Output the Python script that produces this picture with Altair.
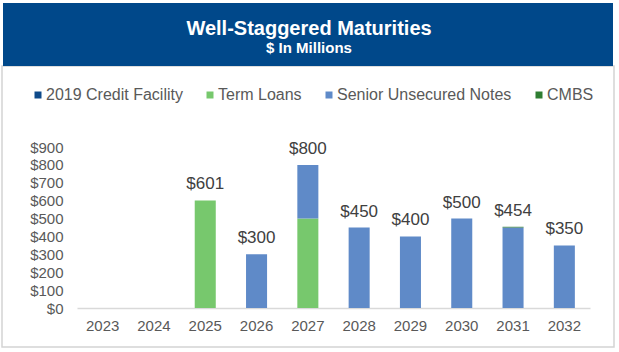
import altair as alt
import pandas as pd

# ---- data ----
years = ["2023", "2024", "2025", "2026", "2027", "2028", "2029", "2030", "2031", "2032"]
series = ["2019 Credit Facility", "Term Loans", "Senior Unsecured Notes", "CMBS"]
colors = ["#0F4A8A", "#77C86D", "#5F8AC8", "#2E7D32"]
credit_facility = [0, 0, 0, 0, 0, 0, 0, 0, 0, 0]
term_loans = [0, 0, 601, 0, 500, 0, 0, 0, 0, 0]
senior_notes = [0, 0, 0, 300, 300, 450, 400, 500, 450, 350]
cmbs = [0, 0, 0, 0, 0, 0, 0, 0, 4, 0]
y_ticks = [0, 100, 200, 300, 400, 500, 600, 700, 800, 900]
title_text = "Well-Staggered Maturities"
subtitle_text = "$ In Millions"

rows = []
for i, yr in enumerate(years):
    for k, (s, vals) in enumerate(zip(series, [credit_facility, term_loans, senior_notes, cmbs])):
        if vals[i] > 0:
            rows.append({"year": yr, "series": s, "value": vals[i], "order": k})
df = pd.DataFrame(rows)

totals = []
for i, yr in enumerate(years):
    t = credit_facility[i] + term_loans[i] + senior_notes[i] + cmbs[i]
    if t > 0:
        totals.append({"year": yr, "total": t})
tot_df = pd.DataFrame(totals)

FONT = "Liberation Sans"
one = alt.Data(values=[{}])

x_scale = alt.Scale(domain=years, paddingInner=0.59, paddingOuter=0.295)
x_axis = alt.Axis(title=None, labelAngle=0, ticks=False, domainColor="#d9d9d9",
                  domainWidth=1.5, labelPadding=10, labelFontSize=15,
                  labelColor="#595959", labelFont=FONT)
y_scale = alt.Scale(domain=[0, 900], nice=False)
y_axis = alt.Axis(title=None, values=y_ticks, format="$.0f", grid=False, domain=False,
                  ticks=False, labelPadding=14, labelFontSize=15, labelColor="#595959",
                  labelFont=FONT, labelOverlap=False)

banner = alt.Chart(one).mark_rect(color="#00488A").encode(
    x=alt.value(-74), x2=alt.value(536), y=alt.value(-144), y2=alt.value(-81)
)
border = alt.Chart(one).mark_rect(fillOpacity=0, stroke="#d4d4d4", strokeWidth=1.5).encode(
    x=alt.value(-75), x2=alt.value(537), y=alt.value(-81), y2=alt.value(200)
)
title = alt.Chart(one).mark_text(
    text=title_text, font=FONT, fontWeight="bold", fontSize=20,
    color="white", align="center", baseline="alphabetic"
).encode(x=alt.value(232), y=alt.value(-112))
subtitle = alt.Chart(one).mark_text(
    text=subtitle_text, font=FONT, fontWeight="bold", fontSize=15,
    color="white", align="center", baseline="alphabetic"
).encode(x=alt.value(232), y=alt.value(-94))

bars = alt.Chart(df).mark_bar().encode(
    x=alt.X("year:N", scale=x_scale, axis=x_axis),
    y=alt.Y("value:Q", stack="zero", scale=y_scale, axis=y_axis),
    color=alt.Color(
        "series:N",
        scale=alt.Scale(domain=series, range=colors),
        legend=alt.Legend(orient="none", legendX=-47, legendY=-60, direction="horizontal",
                          title=None, symbolType="square", symbolSize=49, labelFontSize=16,
                          labelFont=FONT, labelColor="#595959", columnPadding=19,
                          labelOffset=0, symbolStrokeWidth=0, labelLimit=0),
    ),
    order=alt.Order("order:Q"),
)

labels = alt.Chart(tot_df).mark_text(
    baseline="bottom", dy=-7, fontSize=17, font=FONT, color="#404040"
).encode(
    x=alt.X("year:N", scale=x_scale, axis=x_axis),
    y=alt.Y("total:Q", scale=y_scale, axis=y_axis),
    text=alt.Text("total:Q", format="$.0f"),
)

chart = alt.layer(border, banner, title, subtitle, bars, labels).properties(
    width=513, height=161,
    autosize=alt.AutoSizeParams(type="none"),
    padding={"left": 77, "top": 147, "right": 29, "bottom": 44},
).configure_view(stroke=None)

chart.save("out.html", embed_options={"renderer": "svg", "actions": False})
